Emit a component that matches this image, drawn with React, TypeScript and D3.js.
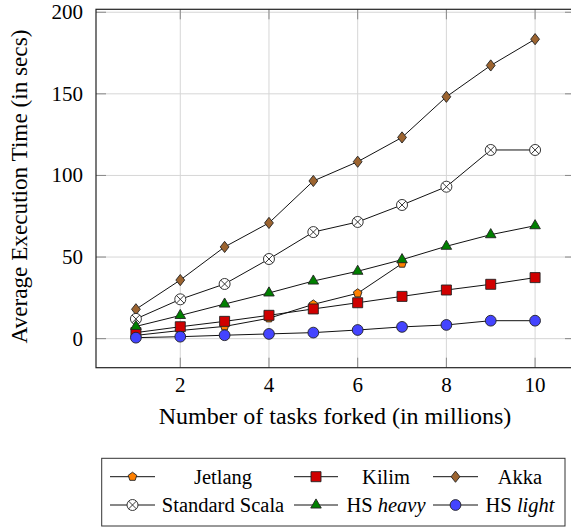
import React from "react";
import * as d3 from "d3";

const xs = [1, 2, 3, 4, 5, 6, 7, 8, 9, 10];
const jetlangX = [1, 2, 3, 4, 5, 6, 7];
const jetlang = [2, 5, 7.5, 12.5, 21, 27.8, 46];
const kilim = [3.7, 7.3, 10.6, 14.3, 18.2, 22, 25.9, 29.8, 33.3, 37.4];
const akka = [18, 35.9, 56.2, 70.9, 96.6, 108.4, 123.3, 148.2, 167.4, 183.5];
const scala = [12.1, 24.1, 33.5, 48.8, 65.3, 71.5, 81.9, 93.1, 115.6, 115.6];
const hsHeavy = [7.5, 14.2, 21.2, 28, 35.3, 41.3, 48.4, 56.6, 63.7, 69.2];
const hsLight = [0.6, 1.2, 2.1, 2.9, 3.7, 5.3, 7.2, 8.4, 11, 11];
const xTicks = [2, 4, 6, 8, 10];
const yTicks = [0, 50, 100, 150, 200];

type Series = { name: string; label: React.ReactNode; x: number[]; y: number[]; marker: string; fill: string };

const series: Series[] = [
  { name: "Jetlang", label: "Jetlang", x: jetlangX, y: jetlang, marker: "pentagon", fill: "#ff8000" },
  { name: "Kilim", label: "Kilim", x: xs, y: kilim, marker: "square", fill: "#d00000" },
  { name: "Akka", label: "Akka", x: xs, y: akka, marker: "diamond", fill: "#9c6430" },
  { name: "Standard Scala", label: "Standard Scala", x: xs, y: scala, marker: "otimes", fill: "#ffffff" },
  { name: "HS heavy", label: <>HS <tspan fontStyle="italic">heavy</tspan></>, x: xs, y: hsHeavy, marker: "triangle", fill: "#008000" },
  { name: "HS light", label: <>HS <tspan fontStyle="italic">light</tspan></>, x: xs, y: hsLight, marker: "circle", fill: "#4444ff" },
];

const FONT = "'Liberation Serif', 'DejaVu Serif', serif";

function Marker({ kind, cx, cy, fill }: { kind: string; cx: number; cy: number; fill: string }) {
  const sw = 0.9;
  const st = "#222";
  if (kind === "circle") return <circle cx={cx} cy={cy} r={5.4} fill={fill} stroke={st} strokeWidth={sw} />;
  if (kind === "square") {
    const p = d3.symbol(d3.symbolSquare, 100)()!;
    return <path d={p} transform={`translate(${cx},${cy})`} fill={fill} stroke={st} strokeWidth={sw} />;
  }
  if (kind === "triangle") {
    const p = d3.symbol(d3.symbolTriangle, 48)()!;
    return <path d={p} transform={`translate(${cx},${cy})`} fill={fill} stroke={st} strokeWidth={sw} />;
  }
  if (kind === "diamond") {
    const w = 4.4, h = 5.6;
    const p = `M0,${-h}L${w},0L0,${h}L${-w},0Z`;
    return <path d={p} transform={`translate(${cx},${cy})`} fill={fill} stroke={st} strokeWidth={sw} />;
  }
  if (kind === "pentagon") {
    const r = 4.5;
    const pts = d3.range(5).map((i) => {
      const a = -Math.PI / 2 + (i * 2 * Math.PI) / 5;
      return [r * Math.cos(a), r * Math.sin(a)] as [number, number];
    });
    const p = d3.line()(pts)! + "Z";
    return <path d={p} transform={`translate(${cx},${cy})`} fill={fill} stroke={st} strokeWidth={sw} />;
  }
  if (kind === "otimes") {
    const r = 5.5;
    const k = r * Math.SQRT1_2;
    return (
      <g transform={`translate(${cx},${cy})`} stroke={st} strokeWidth={sw}>
        <circle r={r} fill="#fff" />
        <line x1={-k} y1={-k} x2={k} y2={k} />
        <line x1={-k} y1={k} x2={k} y2={-k} />
      </g>
    );
  }
  return null;
}

export default function App() {
  const left = 96, right = 575, top = 9.3, bottom = 367.7;
  const x = d3.scaleLinear().domain([0.1, 10.9]).range([left, right]);
  const y = d3.scaleLinear().domain([-17.8, 201.8]).range([bottom, top]);
  const line = d3.line<[number, number]>().x((d) => x(d[0])).y((d) => y(d[1]));

  const legendCols = [
    { lx1: 110, lx2: 155, tc: 223 },
    { lx1: 294, lx2: 338, tc: 386 },
    { lx1: 433, lx2: 478, tc: 520 },
  ];
  const legendRows = [476.7, 505];

  return (
    <svg width={571} height={527} style={{ position: "absolute", left: 0, top: 0 }} fontFamily={FONT}>
      <rect width={571} height={527} fill="#fff" />
      <defs>
        <clipPath id="plotclip">
          <rect x={left} y={top} width={right - left} height={bottom - top} />
        </clipPath>
      </defs>
      {/* grid */}
      {xTicks.map((t) => (
        <line key={"gx" + t} x1={x(t)} x2={x(t)} y1={top} y2={bottom} stroke="#d6d6d6" strokeWidth={1} />
      ))}
      {yTicks.map((t) => (
        <line key={"gy" + t} x1={left} x2={right} y1={y(t)} y2={y(t)} stroke="#d6d6d6" strokeWidth={1} />
      ))}
      {/* ticks */}
      {xTicks.map((t) => (
        <g key={"tx" + t} stroke="#888" strokeWidth={1}>
          <line x1={x(t)} x2={x(t)} y1={bottom} y2={bottom - 10} />
          <line x1={x(t)} x2={x(t)} y1={top} y2={top + 10} />
        </g>
      ))}
      {yTicks.map((t) => (
        <g key={"ty" + t} stroke="#888" strokeWidth={1}>
          <line x1={left} x2={left + 10} y1={y(t)} y2={y(t)} />
          <line x1={right} x2={right - 10} y1={y(t)} y2={y(t)} />
        </g>
      ))}
      {/* frame */}
      <rect x={left} y={top} width={right - left} height={bottom - top} fill="none" stroke="#222" strokeWidth={1.2} />
      {/* tick labels */}
      {xTicks.map((t) => (
        <text key={"lx" + t} x={x(t)} y={392} textAnchor="middle" fontSize={21}>
          {t}
        </text>
      ))}
      {yTicks.map((t) => (
        <text key={"ly" + t} x={83} y={y(t) + 7} textAnchor="end" fontSize={21}>
          {t}
        </text>
      ))}
      {/* axis labels */}
      <text x={(left + right) / 2 - 0.5} y={424} textAnchor="middle" fontSize={24}>
        Number of tasks forked (in millions)
      </text>
      <text transform={`translate(26.5,186.5) rotate(-90)`} textAnchor="middle" fontSize={23.2}>
        Average Execution Time (in secs)
      </text>
      {/* series */}
      <g clipPath="url(#plotclip)">
        {series.map((s) => {
          const pts = s.x.map((xv, i) => [xv, s.y[i]] as [number, number]);
          return (
            <g key={s.name}>
              <path d={line(pts)!} fill="none" stroke="#111" strokeWidth={1} />
              {pts.map((p, i) => (
                <Marker key={i} kind={s.marker} cx={x(p[0])} cy={y(p[1])} fill={s.fill} />
              ))}
            </g>
          );
        })}
      </g>
      {/* legend */}
      <rect x={101.7} y={458.3} width={463.3} height={67.7} fill="#fff" stroke="#333" strokeWidth={1} />
      {series.map((s, i) => {
        const col = legendCols[i % 3];
        const ry = legendRows[Math.floor(i / 3)];
        return (
          <g key={"lg" + s.name}>
            <line x1={col.lx1} x2={col.lx2} y1={ry} y2={ry} stroke="#111" strokeWidth={1} />
            <Marker kind={s.marker} cx={(col.lx1 + col.lx2) / 2} cy={ry} fill={s.fill} />
            <text x={col.tc} y={ry + 7} textAnchor="middle" fontSize={20.5}>
              {s.label}
            </text>
          </g>
        );
      })}
    </svg>
  );
}
